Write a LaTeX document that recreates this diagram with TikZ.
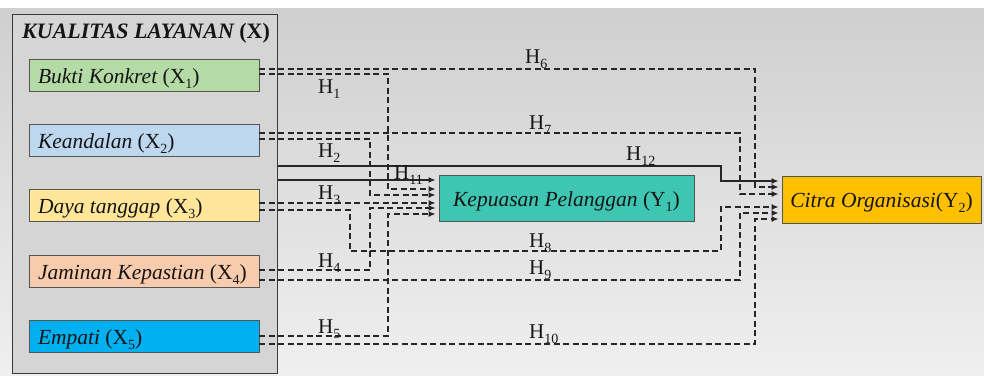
\documentclass[tikz,border=0pt]{standalone}
\usepackage{fontspec}
\setmainfont{Liberation Serif}
\usetikzlibrary{arrows.meta,calc}

\definecolor{bgtop}{HTML}{CFCFCF}
\definecolor{bgbot}{HTML}{EFEFEF}
\definecolor{groupfill}{HTML}{D5D5D5}
\definecolor{groupline}{HTML}{3A3A3A}
\definecolor{boxline}{HTML}{555555}
\definecolor{linecol}{HTML}{262626}
\definecolor{txtcol}{HTML}{151515}
\definecolor{cXa}{HTML}{B4DAA5}
\definecolor{cXb}{HTML}{BDD7EE}
\definecolor{cXc}{HTML}{FFE699}
\definecolor{cXd}{HTML}{F8CBAD}
\definecolor{cXe}{HTML}{00B0F0}
\definecolor{cYa}{HTML}{3EC6B3}
\definecolor{cYb}{HTML}{FFC000}

% lowered index digit, as in X_1 or H_12
\newcommand{\lowidx}[1]{\raisebox{-5pt}[0pt][0pt]{\fontsize{14pt}{14pt}\selectfont #1}}
% upright "(X_i)" inside italic text
\newcommand{\varidx}[2]{{\upshape(#1\lowidx{#2})}}
% left-aligned one-line label of fixed width
\newcommand{\itemline}[1]{\makebox[212pt][l]{#1}}

\begin{document}
\begin{tikzpicture}[x=1pt,y=-1pt,
  every node/.style={text=txtcol},
  xitem/.style={draw=boxline, line width=0.8pt, minimum height=32pt,
    inner xsep=9pt, inner ysep=0pt, text height=20pt, text depth=4pt,
    font=\fontsize{21.5}{24}\selectfont\itshape},
  yitem/.style={draw=boxline, line width=0.8pt, inner sep=0pt,
    text height=20pt, text depth=4pt,
    font=\fontsize{21.5}{24}\selectfont\itshape},
  hlab/.style={anchor=base west, inner sep=0pt, font=\fontsize{21}{22}\selectfont},
  dl/.style={draw=linecol, line width=1.8pt, dash pattern=on 6pt off 3.5pt},
  sl/.style={draw=linecol, line width=1.8pt},
  tip/.style={-{Latex[length=7pt,width=6pt]}, shorten >=3pt}
]
\useasboundingbox (0,0) rectangle (984,375);
\fill[white] (0,0) rectangle (984,375);
\shade[top color=bgtop, bottom color=bgbot] (0,8) rectangle (984,375);

% service quality group
\node[draw=groupline, fill=groupfill, line width=1.3pt, inner sep=0pt,
  minimum width=265pt, minimum height=359pt, anchor=north west] (xbox) at (12,14) {};
\node[anchor=base west, inner sep=0pt, font=\fontsize{22}{24}\selectfont\bfseries\itshape]
  (title) at (22,38) {KUALITAS LAYANAN \varidx{X}{}};

\node[xitem, fill=cXa] (x1) at (144,75)    {\itemline{Bukti Konkret \varidx{X}{1}}};
\node[xitem, fill=cXb] (x2) at (144,140)   {\itemline{Keandalan \varidx{X}{2}}};
\node[xitem, fill=cXc] (x3) at (144,205.5) {\itemline{Daya tanggap \varidx{X}{3}}};
\node[xitem, fill=cXd] (x4) at (144,271)   {\itemline{Jaminan Kepastian \varidx{X}{4}}};
\node[xitem, fill=cXe] (x5) at (144,336)   {\itemline{Empati \varidx{X}{5}}};

% outcome boxes
\node[yitem, fill=cYa, minimum width=255pt, minimum height=46pt] (y1) at (566.5,198)
  {Kepuasan Pelanggan \varidx{Y}{1}};
\node[yitem, fill=cYb, minimum width=199pt, minimum height=47pt] (y2) at (881.5,199.5)
  {Citra Organisasi\varidx{Y}{2}};

% paths into Kepuasan Pelanggan
\draw[dl,tip] (x1.east |- 0,74) -- (388,74) -- (388,189) -- (y1.west |- 0,189);
\draw[dl,tip] (x2.east |- 0,139) -- (370,139) -- (370,195) -- (y1.west |- 0,195);
\draw[dl,tip] (x3.east |- 0,203) -- (y1.west |- 0,203);
\draw[dl,tip] (x4.east |- 0,270) -- (370,270) -- (370,208) -- (y1.west |- 0,208);
\draw[dl,tip] (x5.east |- 0,336) -- (388,336) -- (388,214) -- (y1.west |- 0,214);
\draw[sl,tip] (xbox.east |- 0,180) -- (y1.west |- 0,180);

% paths into Citra Organisasi
\draw[dl,tip] (x1.east |- 0,69) -- (755,69) -- (755,187) -- (y2.west |- 0,187);
\draw[dl,tip] (x2.east |- 0,133) -- (740,133) -- (740,194) -- (y2.west |- 0,194);
\draw[dl,tip] (x3.east |- 0,210) -- (350,210) -- (350,251) -- (721,251) -- (721,207) -- (y2.west |- 0,207);
\draw[dl,tip] (x4.east |- 0,280) -- (740,280) -- (740,213) -- (y2.west |- 0,213);
\draw[dl,tip] (x5.east |- 0,344) -- (755,344) -- (755,219) -- (y2.west |- 0,219);
\draw[sl,tip] (xbox.east |- 0,166) -- (721,166) -- (721,181) -- (y2.west |- 0,181);

% hypothesis labels
\node[hlab] (h1)  at (318,93)  {H\lowidx{1}};
\node[hlab] (h2)  at (318,157) {H\lowidx{2}};
\node[hlab] (h3)  at (318,199) {H\lowidx{3}};
\node[hlab] (h4)  at (318,267) {H\lowidx{4}};
\node[hlab] (h5)  at (318,333) {H\lowidx{5}};
\node[hlab] (h6)  at (525,63)  {H\lowidx{6}};
\node[hlab] (h7)  at (529,129) {H\lowidx{7}};
\node[hlab] (h8)  at (529,247) {H\lowidx{8}};
\node[hlab] (h9)  at (529,274) {H\lowidx{9}};
\node[hlab] (h10) at (529,338) {H\lowidx{10}};
\node[hlab] (h11) at (394,179) {H\lowidx{11}};
\node[hlab] (h12) at (626,160) {H\lowidx{12}};
\end{tikzpicture}
\end{document}
